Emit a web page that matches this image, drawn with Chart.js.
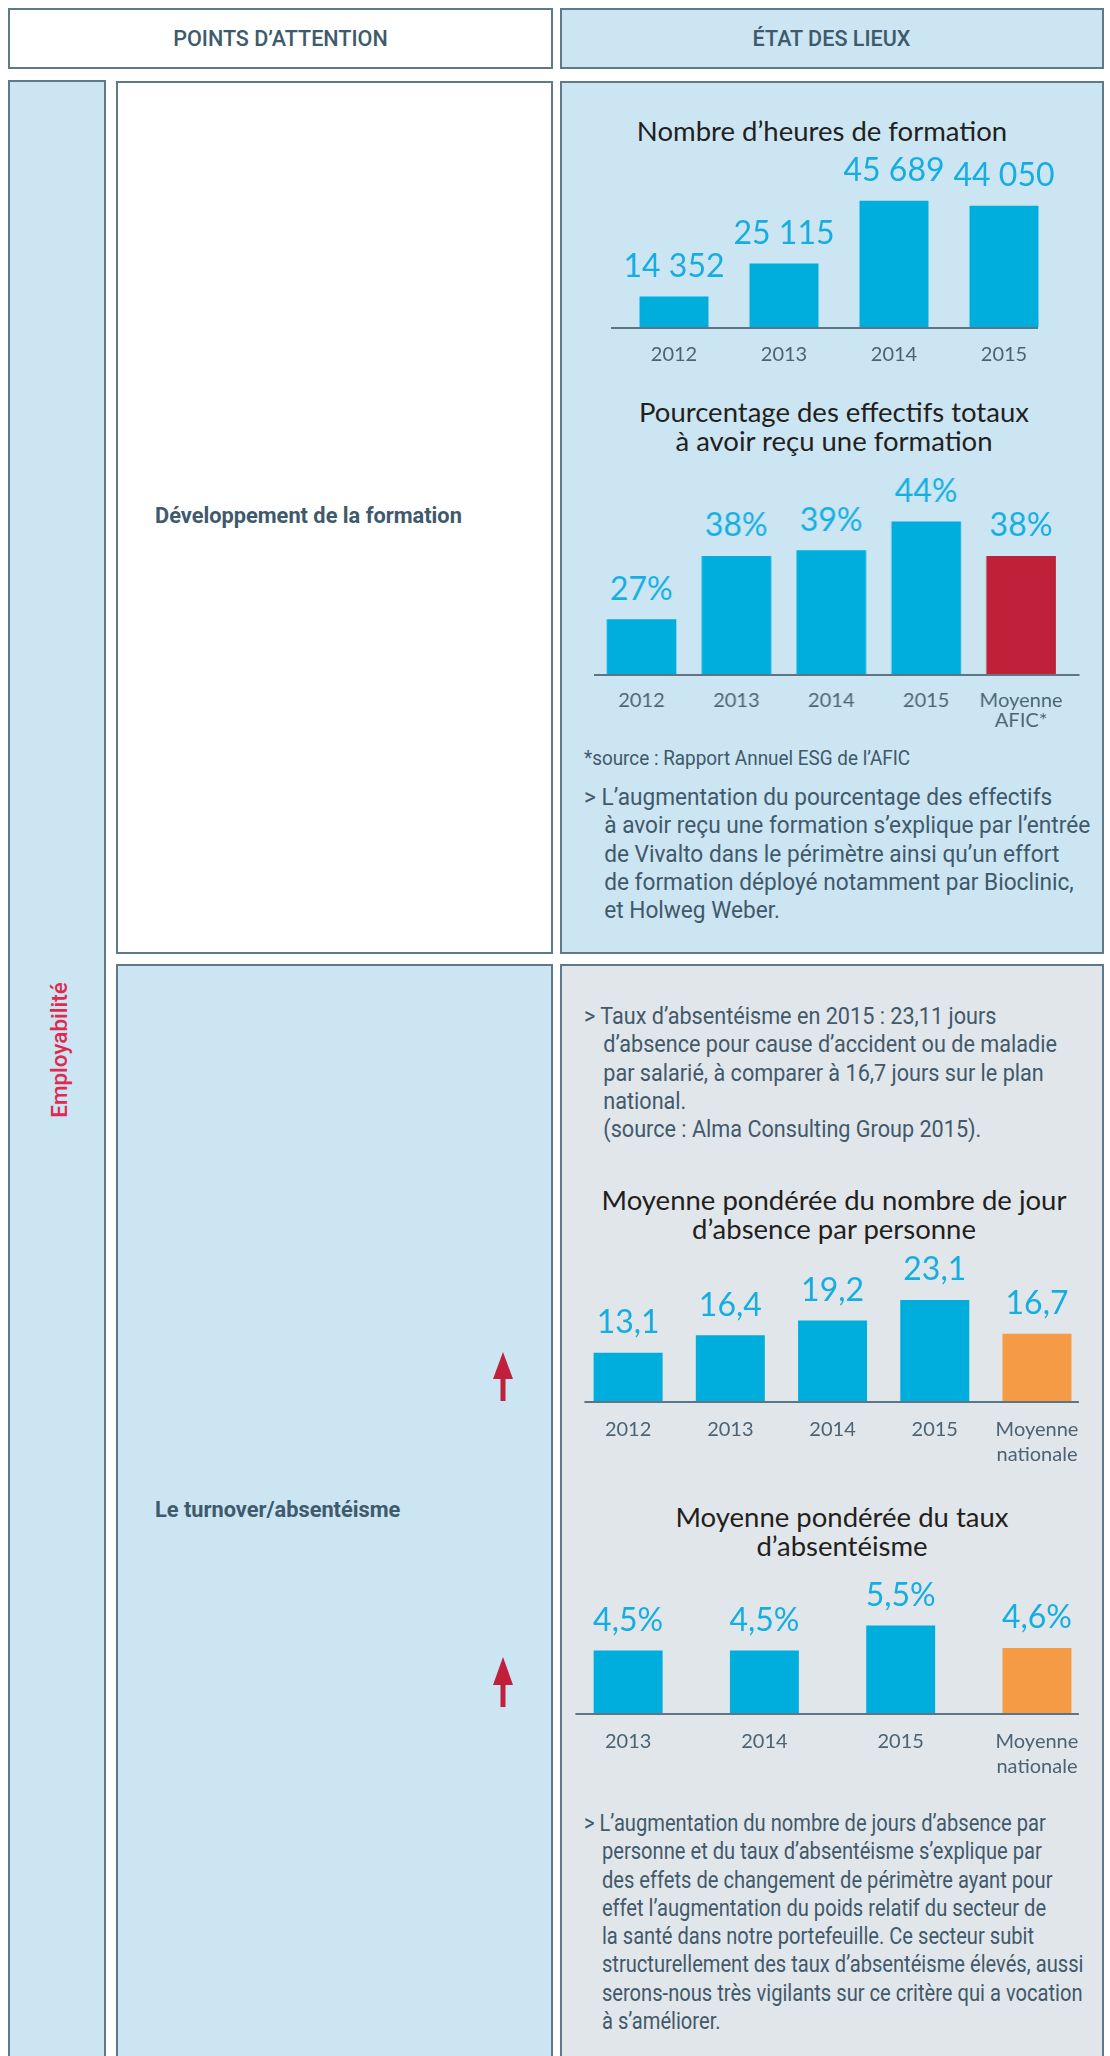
<!DOCTYPE html>
<html lang="fr">
<head>
<meta charset="utf-8">
<script src="https://cdn.jsdelivr.net/npm/chart.js@4.4.0/dist/chart.umd.min.js"></script>
<style>
  html, body { margin: 0; padding: 0; background: #fff; }
  body { width: 1110px; height: 2056px; position: relative; overflow: hidden; }
  .box { position: absolute; box-sizing: border-box; border: 2px solid #5d7a8b; }
  .blue { background: #cbe5f3; }
  .grey { background: #e1e6ea; }
  .white { background: #fff; }
  .head { display: flex; align-items: center; justify-content: center; }
  .head span { font: 500 22px Roboto, sans-serif; color: #3e5a6c; transform: scaleX(0.98); white-space: nowrap; }
  .cond { position: absolute; font-family: Roboto, sans-serif; color: #41596a; white-space: nowrap;
          transform: scaleX(0.98); transform-origin: 0 0; }
  .para { font-size: 23px; line-height: 28.3px; padding-left: 20.5px; text-indent: -20.5px; }
  .point { font-size: 22px; font-weight: 700; line-height: 24px; color: #3e5a6c; transform: scaleX(0.99); }
  .title { position: absolute; width: 600px; text-align: center; font: 27.5px Lato, sans-serif;
           line-height: 29px; color: #231f20; white-space: nowrap; }
  .chartwrap { position: absolute; }
  .vert { position: absolute; left: 59px; top: 1050px; transform: translate(-50%, -50%) rotate(-90deg);
          font: 500 22.5px Roboto, sans-serif; color: #e0294e; white-space: nowrap; }
</style>
</head>
<body>
<script>
// ---- data ----
const heuresYears = ["2012", "2013", "2014", "2015"];
const heuresValues = [14352, 25115, 45689, 44050];

const effectifsLabels = ["2012", "2013", "2014", "2015", ["Moyenne", "AFIC*"]];
const effectifsValues = [27, 38, 39, 44, 38];

const joursLabels = ["2012", "2013", "2014", "2015", ["Moyenne", "nationale"]];
const joursValues = [13.1, 16.4, 19.2, 23.1, 16.7];

const tauxLabels = ["2013", "2014", "2015", ["Moyenne", "nationale"]];
const tauxValues = [4.5, 4.5, 5.5, 4.6];
</script>

<!-- header -->
<div class="box white head" style="left:8px;top:8px;width:545px;height:61px;"><span>POINTS D’ATTENTION</span></div>
<div class="box blue head" style="left:560px;top:8px;width:544px;height:61px;"><span>ÉTAT DES LIEUX</span></div>

<!-- panels -->
<div class="box blue" style="left:8px;top:80px;width:98px;height:2000px;"></div>
<div class="vert">Employabilité</div>

<div class="box white" style="left:116px;top:81px;width:437px;height:873px;"></div>
<div class="box blue" style="left:116px;top:964px;width:437px;height:1120px;"></div>
<div class="box blue" style="left:560px;top:81px;width:544px;height:873px;"></div>
<div class="box grey" style="left:560px;top:964px;width:544px;height:1120px;"></div>

<div class="cond point" style="left:155px;top:504px;">Développement de la formation</div>
<div class="cond point" style="left:155px;top:1498px;">Le turnover/absentéisme</div>

<svg style="position:absolute;left:0;top:0;" width="1110" height="2056">
  <polygon fill="#c0203a" points="503,1352 513,1379 505.5,1379 505.5,1401 500.5,1401 500.5,1379 493,1379"/>
  <polygon fill="#c0203a" points="503,1657 513,1685 505.5,1685 505.5,1707 500.5,1707 500.5,1685 493,1685"/>
</svg>

<!-- right column texts -->
<div class="title" style="left:522px;top:116px;">Nombre d’heures de formation</div>
<div class="title" style="left:534px;top:397px;">Pourcentage des effectifs totaux<br>à avoir reçu une formation</div>
<div class="cond" style="left:584px;top:744px;font-size:21px;line-height:28px;transform:scaleX(0.9);">*source : Rapport Annuel ESG de l’AFIC</div>
<div class="cond para" style="left:584px;top:784px;transform:scaleX(0.985);">&gt; L’augmentation du pourcentage des effectifs<br>à avoir reçu une formation s’explique par l’entrée<br>de Vivalto dans le périmètre ainsi qu’un effort<br>de formation déployé notamment par Bioclinic,<br>et Holweg Weber.</div>

<div class="cond para" style="left:584px;top:1003px;transform:scaleX(0.94);">&gt; Taux d’absentéisme en 2015 : 23,11 jours<br>d’absence pour cause d’accident ou de maladie<br>par salarié, à comparer à 16,7 jours sur le plan<br>national.<br>(source : Alma Consulting Group 2015).</div>
<div class="title" style="left:534px;top:1185px;">Moyenne pondérée du nombre de jour<br>d’absence par personne</div>
<div class="title" style="left:542px;top:1502px;">Moyenne pondérée du taux<br>d’absentéisme</div>
<div class="cond para" style="left:584px;top:1810px;transform:scaleX(0.875);">&gt; L’augmentation du nombre de jours d’absence par<br>personne et du taux d’absentéisme s’explique par<br>des effets de changement de périmètre ayant pour<br>effet l’augmentation du poids relatif du secteur de<br>la santé dans notre portefeuille. Ce secteur subit<br>structurellement des taux d’absentéisme élevés, aussi<br>serons-nous très vigilants sur ce critère qui a vocation<br>à s’améliorer.</div>

<div class="chartwrap" id="w1"><canvas id="c1"></canvas></div>
<div class="chartwrap" id="w2"><canvas id="c2"></canvas></div>
<div class="chartwrap" id="w3"><canvas id="c3"></canvas></div>
<div class="chartwrap" id="w4"><canvas id="c4"></canvas></div>

<script>
const CYAN = "#00aedd";
const RED = "#c0203a";
const ORANGE = "#f59b45";
const PAD_TOP = 60, PAD_SIDE = 30, AXIS_H = 70;

const spaced = (v) => String(v).replace(/\B(?=(\d{3})+(?!\d))/g, " ");
const comma = (v) => v.toFixed(1).replace(".", ",");

// baseline under the bars, drawn at the bottom of the chart area
const baseline = {
  id: "baseline",
  afterDatasetsDraw(chart, args, opts) {
    const { ctx, chartArea } = chart;
    ctx.save();
    ctx.strokeStyle = "#5d7585";
    ctx.lineWidth = 2;
    ctx.beginPath();
    ctx.moveTo(opts.from, chartArea.bottom + 1);
    ctx.lineTo(opts.to, chartArea.bottom + 1);
    ctx.stroke();
    ctx.restore();
  },
};

// value written above each bar
const valueLabels = {
  id: "valueLabels",
  afterDatasetsDraw(chart, args, opts) {
    const { ctx } = chart;
    const meta = chart.getDatasetMeta(0);
    const data = chart.data.datasets[0].data;
    ctx.save();
    ctx.font = "32px Lato, sans-serif";
    ctx.fillStyle = "#16ade0";
    ctx.textAlign = "center";
    ctx.textBaseline = "middle";
    meta.data.forEach((bar, i) => {
      ctx.fillText(opts.format(data[i]), bar.x, bar.y - 30);
    });
    ctx.restore();
  },
};

function makeChart(n, labels, values, s) {
  const wrap = document.getElementById("w" + n);
  const left = s.areaL - PAD_SIDE;
  wrap.style.left = left + "px";
  wrap.style.top = (s.axisY - s.plotH - PAD_TOP) + "px";
  wrap.style.width = (s.areaR - s.areaL + 2 * PAD_SIDE) + "px";
  wrap.style.height = (PAD_TOP + s.plotH + AXIS_H) + "px";

  new Chart(document.getElementById("c" + n), {
    type: "bar",
    data: {
      labels: labels,
      datasets: [{
        data: values,
        backgroundColor: s.colors,
        borderWidth: 0,
        barPercentage: s.barPct,
        categoryPercentage: 1,
      }],
    },
    options: {
      responsive: true,
      maintainAspectRatio: false,
      animation: false,
      layout: { padding: { top: PAD_TOP, left: PAD_SIDE, right: PAD_SIDE, bottom: 0 } },
      plugins: {
        legend: { display: false },
        tooltip: { enabled: false },
        baseline: { from: s.line[0] - left, to: s.line[1] - left },
        valueLabels: { format: s.format },
      },
      scales: {
        x: {
          grid: { display: false, drawTicks: false },
          border: { display: false },
          ticks: {
            color: "#4b6373",
            padding: s.tickPad,
            maxRotation: 0,
            autoSkip: false,
            font: { family: "Lato, sans-serif", size: 20, lineHeight: s.lineH },
          },
          afterFit(scale) { scale.height = AXIS_H; },
        },
        y: { display: false, min: s.min, max: s.max },
      },
    },
    plugins: [baseline, valueLabels],
  });
}

makeChart(1, heuresYears, heuresValues, {
  areaL: 619, areaR: 1059, axisY: 326.7, plotH: 140, min: 4400, max: 50160,
  line: [611, 1038], barPct: 0.627, tickPad: 16, lineH: 1.2,
  colors: [CYAN, CYAN, CYAN, CYAN], format: spaced,
});

makeChart(2, effectifsLabels, effectifsValues, {
  areaL: 594, areaR: 1067.6, axisY: 673.6, plotH: 180, min: 17.5, max: 48.8,
  line: [594, 1078.5], barPct: 0.733, tickPad: 17, lineH: 0.98,
  colors: [CYAN, CYAN, CYAN, CYAN, RED], format: (v) => v + "%",
});

makeChart(3, joursLabels, joursValues, {
  areaL: 576.6, areaR: 1087.7, axisY: 1400.7, plotH: 130, min: 4, max: 28.56,
  line: [584, 1078.5], barPct: 0.675, tickPad: 16, lineH: 1.25,
  colors: [CYAN, CYAN, CYAN, CYAN, ORANGE], format: comma,
});

makeChart(4, tauxLabels, tauxValues, {
  areaL: 559.6, areaR: 1104.7, axisY: 1712.7, plotH: 110, min: 2, max: 6.4,
  line: [575, 1078.5], barPct: 0.506, tickPad: 16, lineH: 1.25,
  colors: [CYAN, CYAN, CYAN, ORANGE], format: (v) => comma(v) + "%",
});
</script>
</body>
</html>
